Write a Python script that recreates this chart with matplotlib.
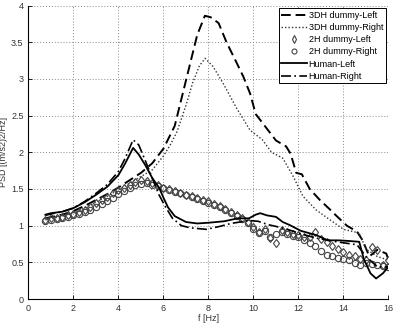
#This script draws the PSD comparison of the dummies and the human subjects

from matplotlib import pyplot as plt
import numpy as np

#frequencies of the 2H dummy measurements (one point every 0.25 Hz)
freq_2h = [0.75, 1.0, 1.25, 1.5, 1.75, 2.0, 2.25, 2.5, 2.75, 3.0, 3.25, 3.5, 3.75, 4.0, 4.25, 4.5,
           4.75, 5.0, 5.25, 5.5, 5.75, 6.0, 6.25, 6.5, 6.75, 7.0, 7.25, 7.5, 7.75, 8.0, 8.25, 8.5,
           8.75, 9.0, 9.25, 9.5, 9.75, 10.0, 10.25, 10.5, 10.75, 11.0, 11.25, 11.5, 11.75, 12.0, 12.25, 12.5,
           12.75, 13.0, 13.25, 13.5, 13.75, 14.0, 14.25, 14.5, 14.75, 15.0, 15.25, 15.5, 15.75, 16.0]
psd_2h_left = [1.08, 1.10, 1.11, 1.12, 1.14, 1.16, 1.19, 1.22, 1.26, 1.31, 1.35, 1.39, 1.44, 1.48, 1.52, 1.56,
               1.59, 1.62, 1.61, 1.58, 1.55, 1.52, 1.50, 1.47, 1.45, 1.42, 1.40, 1.38, 1.35, 1.33, 1.30, 1.27,
               1.23, 1.19, 1.15, 1.10, 1.05, 0.98, 0.92, 0.96, 0.83, 0.76, 0.94, 0.92, 0.89, 0.87, 0.85, 0.84,
               0.92, 0.82, 0.78, 0.72, 0.68, 0.64, 0.60, 0.58, 0.55, 0.53, 0.71, 0.67, 0.47, 0.53]
psd_2h_right = [1.07, 1.08, 1.09, 1.10, 1.12, 1.14, 1.16, 1.19, 1.22, 1.26, 1.30, 1.34, 1.38, 1.43, 1.47, 1.51,
                1.55, 1.57, 1.58, 1.56, 1.54, 1.51, 1.49, 1.46, 1.44, 1.42, 1.39, 1.37, 1.34, 1.31, 1.28, 1.25,
                1.21, 1.17, 1.13, 1.09, 1.04, 0.96, 0.90, 0.93, 0.85, 0.88, 0.91, 0.89, 0.86, 0.84, 0.80, 0.76,
                0.72, 0.66, 0.60, 0.58, 0.56, 0.55, 0.53, 0.49, 0.47, 0.49, 0.48, 0.46, 0.45, 0.44]

#3DH dummy, left and right
freq_3dh_left = [0.75, 1.5, 2.0, 2.5, 3.0, 3.5, 4.0, 4.5, 5.0, 5.5, 6.0, 6.5, 7.0, 7.5, 7.84, 8.1,
                 8.45, 8.8, 9.25, 9.55, 9.85, 10.1, 10.5, 11.0, 11.45, 11.65, 11.9, 12.15, 12.5, 12.95, 13.4, 13.7,
                 14.15, 14.6, 14.85, 15.15, 15.5, 15.9, 16.0]
psd_3dh_left = [1.10, 1.15, 1.20, 1.27, 1.35, 1.43, 1.52, 1.62, 1.72, 1.85, 2.05, 2.36, 2.98, 3.60, 3.86, 3.84,
                3.76, 3.50, 3.22, 3.03, 2.80, 2.52, 2.36, 2.16, 2.08, 1.98, 1.72, 1.70, 1.50, 1.35, 1.22, 1.13,
                1.00, 0.92, 0.80, 0.58, 0.67, 0.62, 0.54]
freq_3dh_right = [0.75, 1.5, 2.0, 2.5, 3.0, 3.5, 4.0, 4.5, 5.0, 5.5, 6.0, 6.3, 6.6, 7.0, 7.3, 7.6,
                  7.85, 8.2, 8.65, 9.25, 9.85, 10.4, 10.8, 11.3, 11.75, 12.2, 12.8, 13.4, 14.0, 14.7, 15.0, 15.5,
                  16.0]
psd_3dh_right = [1.08, 1.13, 1.18, 1.24, 1.32, 1.40, 1.49, 1.58, 1.67, 1.76, 1.95, 2.10, 2.28, 2.64, 2.95, 3.18,
                 3.28, 3.17, 2.94, 2.60, 2.30, 2.17, 2.00, 1.92, 1.68, 1.40, 1.21, 1.08, 0.95, 0.90, 0.68, 0.58,
                 0.53]

#human subjects, left and right
freq_human_left = [0.75, 1.0, 1.5, 2.0, 2.5, 3.0, 3.5, 4.0, 4.3, 4.65, 4.9, 5.2, 5.5, 5.8, 6.0, 6.2,
                   6.5, 7.0, 7.5, 8.0, 8.7, 9.3, 9.8, 10.1, 10.3, 10.6, 11.0, 11.3, 11.6, 12.1, 12.8, 13.3,
                   13.8, 14.3, 14.7, 14.9, 15.2, 15.45, 15.75, 16.0]
psd_human_left = [1.15, 1.17, 1.19, 1.24, 1.32, 1.42, 1.53, 1.69, 1.85, 2.06, 1.97, 1.82, 1.65, 1.52, 1.38, 1.25,
                  1.13, 1.05, 1.03, 1.04, 1.06, 1.10, 1.10, 1.15, 1.17, 1.14, 1.12, 1.05, 1.01, 0.93, 0.87, 0.80,
                  0.80, 0.79, 0.78, 0.55, 0.35, 0.28, 0.35, 0.44]
freq_human_right = [0.75, 1.0, 1.5, 2.0, 2.5, 3.0, 3.5, 4.0, 4.3, 4.65, 4.9, 5.2, 5.5, 5.8, 6.1, 6.4,
                    6.8, 7.2, 7.9, 8.5, 9.0, 9.8, 10.2, 10.7, 11.0, 11.6, 12.2, 12.8, 13.7, 14.6, 15.0, 15.5,
                    15.9, 16.0]
psd_human_right = [1.14, 1.16, 1.19, 1.24, 1.33, 1.44, 1.56, 1.74, 1.92, 2.17, 2.10, 1.88, 1.65, 1.42, 1.25, 1.10,
                   1.00, 0.97, 0.95, 0.99, 1.03, 1.07, 1.06, 1.01, 0.99, 0.94, 0.88, 0.83, 0.78, 0.74, 0.58, 0.44,
                   0.44, 0.45]

plt.rcParams['font.family'] = ['Liberation Sans', 'DejaVu Sans']

fig = plt.figure(figsize=(3.93, 3.24), dpi=100)
ax = fig.add_axes([0.0725, 0.077, 0.916, 0.906])

ax.plot(freq_3dh_left, psd_3dh_left, color='black', linestyle=(0, (5, 2.5)), linewidth=1.4, label='3DH dummy-Left')
ax.plot(freq_3dh_right, psd_3dh_right, color='#333333', linestyle=(0, (1, 1.5)), linewidth=1.0, label='3DH dummy-Right')
ax.plot(freq_2h, psd_2h_left, linestyle='none', marker='d', markersize=4.5, markerfacecolor='none',
        markeredgecolor='#444444', markeredgewidth=0.8, label='2H dummy-Left')
ax.plot(freq_2h, psd_2h_right, linestyle='none', marker='o', markersize=4.5, markerfacecolor='none',
        markeredgecolor='#444444', markeredgewidth=0.8, label='2H dummy-Right')
ax.plot(freq_human_left, psd_human_left, color='black', linestyle='-', linewidth=1.3, label='Human-Left')
ax.plot(freq_human_right, psd_human_right, color='black', linestyle=(0, (6, 2, 1, 2)), linewidth=1.2, label='Human-Right')

ax.set_xlim(0, 16)
ax.set_ylim(0, 4)
ax.set_xticks(np.arange(0, 17, 2))
ax.set_yticks(np.arange(0, 4.01, 0.5))
ax.set_yticklabels(['0', '0.5', '1', '1.5', '2', '2.5', '3', '3.5', '4'])
ax.tick_params(direction='in', labelsize=6.5, labelcolor='#333333', length=3, width=0.6)
ax.grid(True, linestyle=(0, (1, 2)), color='#888888', linewidth=0.7)

#matlab style: box off, only the axis lines
ax.spines['top'].set_visible(False)
ax.spines['right'].set_visible(False)
ax.spines['left'].set_linewidth(0.8)
ax.spines['bottom'].set_linewidth(0.8)

ax.set_xlabel('f [Hz]', fontsize=6.5, color='#333333', labelpad=1)
ax.set_ylabel('PSD [(m/s2)2/Hz]', fontsize=6.5, color='#333333', labelpad=2)

leg = ax.legend(loc='upper right', fontsize=6.5, handlelength=2.8, handletextpad=0.2, labelspacing=0.35,
                borderpad=0.3, borderaxespad=0.3, fancybox=False, framealpha=1, edgecolor='black',
                markerscale=0.8)
leg.get_frame().set_linewidth(0.7)

plt.savefig('out.png', dpi=100)
